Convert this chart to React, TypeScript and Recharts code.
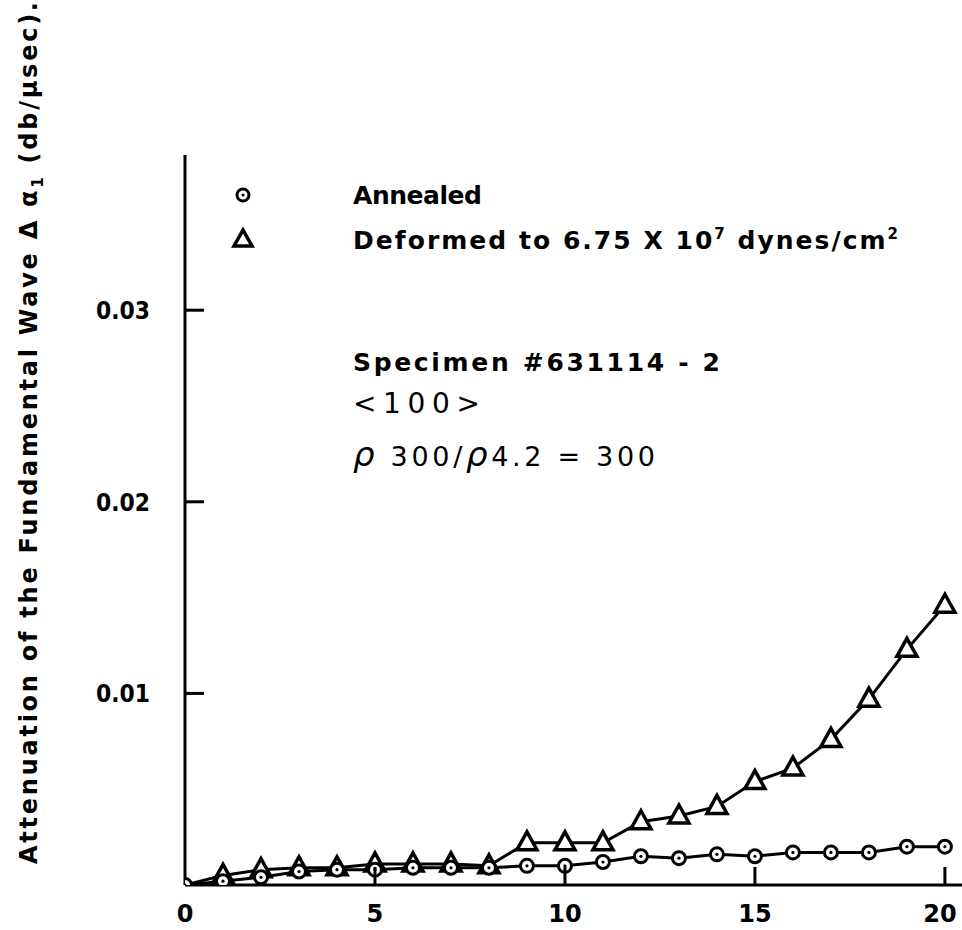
import React from 'react';
import { LineChart, Line, XAxis, YAxis, Legend } from 'recharts';

// strain (x) and attenuation values
const strain = [0, 1, 2, 3, 4, 5, 6, 7, 8, 9, 10, 11, 12, 13, 14, 15, 16, 17, 18, 19, 20];
const annealed = [0, 0.0002, 0.0004, 0.0007, 0.0008, 0.0008, 0.0009, 0.0009, 0.0009, 0.001, 0.001, 0.0012, 0.0015, 0.0014, 0.0016, 0.0015, 0.0017, 0.0017, 0.0017, 0.002, 0.002];
const deformed = [0, 0.0005, 0.0008, 0.0009, 0.0009, 0.0011, 0.0011, 0.0011, 0.001, 0.0022, 0.0022, 0.0022, 0.0033, 0.0036, 0.0041, 0.0054, 0.0061, 0.0076, 0.0097, 0.0123, 0.0146];
const xTicks = [0, 5, 10, 15, 20];
const yTicks = [0.01, 0.02, 0.03];
const yTickLabels = ['0.01', '0.02', '0.03'];

const data = strain.map((x, i) => ({ x, annealed: annealed[i], deformed: deformed[i] }));

const FONT = '"DejaVu Sans", Verdana, sans-serif';

const CircleDot = (p: any) => {
  const { cx, cy, index } = p;
  if (cx == null || cy == null) return <g key={`c-${index}`} />;
  return (
    <g key={`c-${index}`}>
      <circle cx={cx} cy={cy} r={6.5} fill="#fff" stroke="#000" strokeWidth={3} />
      <circle cx={cx} cy={cy} r={1.6} fill="#000" />
    </g>
  );
};

const TriangleDot = (p: any) => {
  const { cx, cy, index } = p;
  // no triangle at the origin, only the circle is drawn there
  if (cx == null || cy == null || index === 0) return <g key={`t-${index}`} />;
  return (
    <polygon
      key={`t-${index}`}
      points={`${cx},${cy - 11} ${cx - 10},${cy + 7} ${cx + 10},${cy + 7}`}
      fill="#fff"
      stroke="#000"
      strokeWidth={3.5}
    />
  );
};

const XTick = (p: any) => {
  const { x, y, payload } = p;
  const shift = payload.value === 20 ? -5 : 0;
  return (
    <g>
      {payload.value !== 0 && <line x1={x} y1={y} x2={x} y2={y - 18} stroke="#000" strokeWidth={3} />}
      <text x={x + shift} y={y + 37} textAnchor="middle" fontFamily={FONT} fontWeight="bold" fontSize={24} fill="#000">
        {payload.value}
      </text>
    </g>
  );
};

const YTick = (p: any) => {
  const { x, y, payload } = p;
  const i = yTicks.indexOf(payload.value);
  return (
    <g>
      <line x1={x} y1={y} x2={x + 19} y2={y} stroke="#000" strokeWidth={3} />
      <text x={x - 35} y={y + 9} textAnchor="end" fontFamily={FONT} fontWeight="bold" fontSize={24} fill="#000" textLength={54} lengthAdjust="spacingAndGlyphs">
        {yTickLabels[i]}
      </text>
    </g>
  );
};

const LegendBox = () => (
  <svg width={700} height={90} style={{ overflow: 'visible' }}>
    <circle cx={18} cy={20} r={6} fill="#fff" stroke="#000" strokeWidth={3} />
    <circle cx={18} cy={20} r={1.5} fill="#000" />
    <text x={128} y={29} fontFamily={FONT} fontWeight="bold" fontSize={25} textLength={129} lengthAdjust="spacing">Annealed</text>
    <polygon points="18,55 9,71 27,71" fill="#fff" stroke="#000" strokeWidth={3.5} />
    <text x={128} y={74} fontFamily={FONT} fontWeight="bold" fontSize={25} textLength={545} lengthAdjust="spacing">
      Deformed to 6.75 X 10<tspan fontSize={15} dy={-10}>7</tspan>
      <tspan dy={10}> dynes/cm</tspan>
      <tspan fontSize={15} dy={-10}>2</tspan>
    </text>
  </svg>
);

export default function App() {
  return (
    <div style={{ position: 'absolute', left: 0, top: 0, width: 962, height: 930, background: '#fff' }}>
      <LineChart width={962} height={930} data={data} margin={{ top: 155, right: 0, left: 0, bottom: 0 }}>
        <XAxis
          type="number"
          dataKey="x"
          domain={[0, 20.45]}
          ticks={xTicks}
          height={45}
          tickSize={0}
          tickMargin={0}
          tickLine={false}
          tick={<XTick />}
          axisLine={{ stroke: '#000', strokeWidth: 3 }}
          allowDataOverflow
        />
        <YAxis
          type="number"
          domain={[0, 0.0381]}
          ticks={yTicks}
          width={185}
          tickSize={0}
          tickMargin={0}
          tickLine={false}
          tick={<YTick />}
          axisLine={{ stroke: '#000', strokeWidth: 3 }}
          allowDataOverflow
        />
        <Legend
          layout="horizontal"
          verticalAlign="middle"
          align="center"
          content={<LegendBox />}
          wrapperStyle={{ position: 'absolute', left: 225, top: 175, width: 700, height: 90 }}
        />
        <Line
          type="linear"
          dataKey="deformed"
          name="Deformed to 6.75 X 10^7 dynes/cm^2"
          stroke="#000"
          strokeWidth={3}
          dot={TriangleDot}
          isAnimationActive={false}
        />
        <Line
          type="linear"
          dataKey="annealed"
          name="Annealed"
          stroke="#000"
          strokeWidth={3}
          dot={CircleDot}
          isAnimationActive={false}
        />
      </LineChart>
      <svg width={962} height={930} style={{ position: 'absolute', left: 0, top: 0, pointerEvents: 'none' }}>
        <text
          transform="translate(37,433) rotate(-90)"
          textAnchor="middle"
          fontFamily={FONT}
          fontWeight="bold"
          fontSize={24}
          textLength={862}
          lengthAdjust="spacing"
        >
          Attenuation of the Fundamental Wave   Δ α<tspan fontSize={15} dy={6}>1</tspan>
          <tspan dy={-6}>   (db/μsec).</tspan>
        </text>
        <text x={353} y={371} fontFamily={FONT} fontWeight="bold" fontSize={25} textLength={367} lengthAdjust="spacing">
          Specimen  #631114 - 2
        </text>
        <text x={353} y={413} fontFamily={FONT} fontSize={28} textLength={127} lengthAdjust="spacing">
          {'<100>'}
        </text>
        <text x={353} y={466} fontFamily={FONT} fontSize={27} textLength={302} lengthAdjust="spacing">
          <tspan fontStyle="italic" fontSize={34}>ρ</tspan> 300/<tspan fontStyle="italic" fontSize={34}>ρ</tspan>4.2 = 300
        </text>
      </svg>
    </div>
  );
}
